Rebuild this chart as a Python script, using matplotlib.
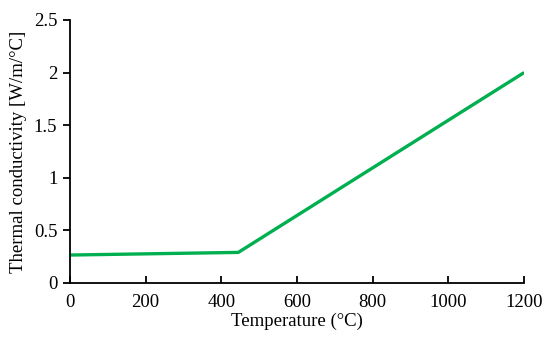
import matplotlib
matplotlib.use('Agg')
import matplotlib.pyplot as plt

plt.rcParams['font.family'] = ['Liberation Serif', 'DejaVu Serif']

temperature = [0, 445, 1200]
conductivity = [0.265, 0.29, 2.0]

fig = plt.figure(figsize=(5.5, 3.38), dpi=100)
ax = fig.add_axes([0.127, 0.163, 0.826, 0.778])

ax.plot(temperature, conductivity, color='#00AF50', linewidth=2.4, solid_capstyle='butt')

ax.set_xlim(0, 1200)
ax.set_ylim(0, 2.5)
ax.set_xticks([0, 200, 400, 600, 800, 1000, 1200])
ax.set_yticks([0, 0.5, 1, 1.5, 2, 2.5])
ax.set_yticklabels(['0', '0.5', '1', '1.5', '2', '2.5'])

ax.spines['top'].set_visible(False)
ax.spines['right'].set_visible(False)
ax.spines['left'].set_linewidth(1.3)
ax.spines['bottom'].set_linewidth(1.3)
ax.tick_params(axis='x', direction='in', length=5, width=1.3, labelsize=13.5, pad=8)
ax.tick_params(axis='y', direction='out', length=5, width=1.3, labelsize=13.5, pad=4)

ax.set_xlabel('Temperature (°C)', fontsize=13.5, labelpad=1)
ax.set_ylabel('Thermal conductivity [W/m/°C]', fontsize=13.5, labelpad=5)

fig.savefig('out.png', dpi=100)
